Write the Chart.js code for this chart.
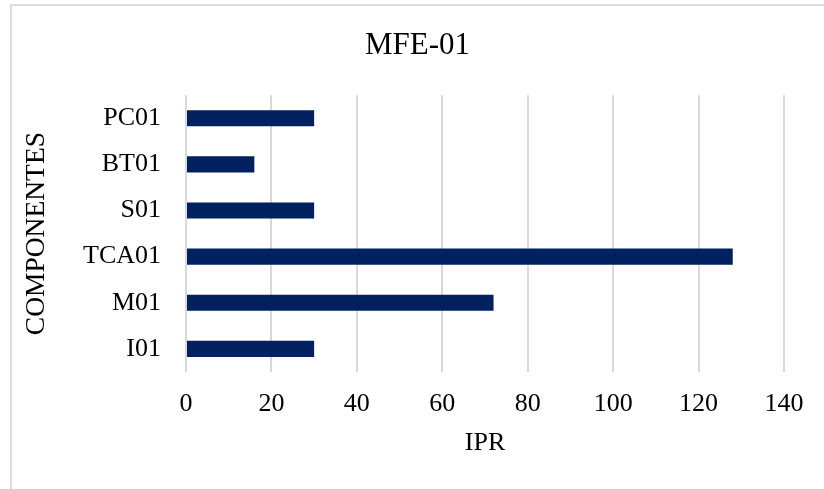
<!DOCTYPE html>
<html>
<head>
<meta charset="utf-8">
<title>MFE-01</title>
<script src="https://cdn.jsdelivr.net/npm/chart.js@4.4.1/dist/chart.umd.min.js"></script>
<style>
  html, body { margin: 0; padding: 0; background: #ffffff; overflow: hidden; }
  #wrap { position: relative; width: 824px; height: 489px; }
  #frame {
    position: absolute; left: 10px; top: 4px; right: -20px; bottom: -20px;
    border: 2px solid #dcdcdc; box-sizing: border-box; pointer-events: none;
  }
  canvas { position: absolute; left: 0; top: 0; }
</style>
</head>
<body>
<div id="wrap">
  <canvas id="chart" width="824" height="489"></canvas>
  <div id="frame"></div>
</div>
<script>
// Components, listed top to bottom
const components = ['PC01', 'BT01', 'S01', 'TCA01', 'M01', 'I01'];
// IPR value for each component
const iprValues = [30, 16, 30, 128, 72, 30];
// Value axis ticks
const xTicks = [0, 20, 40, 60, 80, 100, 120, 140];

const serif = "'Liberation Serif', 'Times New Roman', serif";

new Chart(document.getElementById('chart'), {
  type: 'bar',
  data: {
    labels: components,
    datasets: [{
      label: 'IPR',
      data: iprValues,
      backgroundColor: '#002060',
      borderWidth: 0,
      categoryPercentage: 1,
      barPercentage: 0.35
    }]
  },
  options: {
    indexAxis: 'y',
    responsive: false,
    animation: false,
    devicePixelRatio: 1,
    layout: { padding: { left: 11, right: 0, top: 0, bottom: 0 } },
    plugins: {
      legend: { display: false },
      tooltip: { enabled: false },
      title: {
        display: true,
        text: 'MFE-01',
        color: '#000000',
        font: { family: serif, size: 31, weight: 'normal', lineHeight: 1.2 },
        padding: { top: 27, bottom: 31 }
      }
    },
    scales: {
      x: {
        min: xTicks[0],
        max: xTicks[xTicks.length - 1],
        afterBuildTicks: (scale) => { scale.ticks = xTicks.map(v => ({ value: v })); },
        afterFit: (scale) => {
          scale.height = 117;
          // keep the plot's right edge clear of the frame
          scale.paddingRight = 40;
        },
        ticks: {
          color: '#000000',
          font: { family: serif, size: 26 },
          padding: 17,
          maxRotation: 0
        },
        grid: { color: '#d9d9d9', lineWidth: 2, drawTicks: false },
        border: { display: false },
        title: {
          display: true,
          text: 'IPR',
          color: '#000000',
          font: { family: serif, size: 26, lineHeight: 1.2 },
          padding: { top: 0, bottom: 30 }
        }
      },
      y: {
        afterFit: (scale) => { scale.width = 175; },
        ticks: {
          color: '#000000',
          font: { family: serif, size: 26 },
          padding: 25
        },
        grid: { display: false, drawTicks: false },
        border: { display: false },
        title: {
          display: true,
          text: 'COMPONENTES',
          color: '#000000',
          font: { family: serif, size: 27.5, lineHeight: 1.2 },
          padding: { top: 9, bottom: 0 }
        }
      }
    }
  }
});
</script>
</body>
</html>
